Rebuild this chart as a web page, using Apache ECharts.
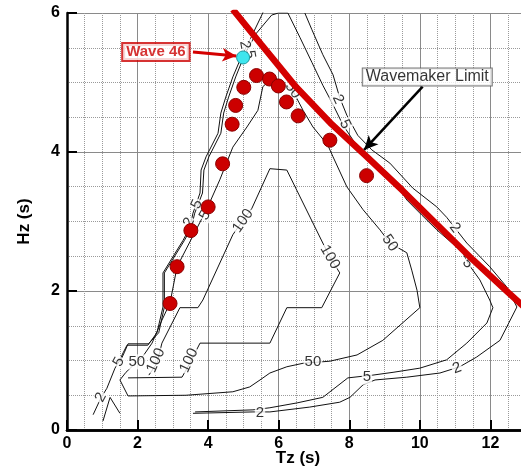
<!DOCTYPE html>
<html>
<head>
<meta charset="utf-8">
<script src="https://cdn.jsdelivr.net/npm/echarts@6/dist/echarts.min.js"></script>
<style>
  html, body { margin: 0; padding: 0; background: #fff; }
  #chart { width: 521px; height: 470px; }
</style>
</head>
<body>
<div id="chart"></div>
<script>
// contour lines, points are [Tz, Hz]
const contour2Left = [[0.74,0.22],[0.96,0.46],[1.13,0.60],[1.36,0.89],[1.47,0.98],[1.59,1.11],[1.70,1.22],[2.29,1.22],[2.55,1.40],[2.72,1.77],[2.72,2.26],[3.29,2.73],[3.48,2.91],[3.57,3.12],[3.77,3.41],[3.80,3.74],[3.94,3.93],[4.28,4.27],[4.36,4.56],[4.50,4.79],[4.70,5.08],[4.90,5.32],[4.99,5.42],[5.18,5.61],[5.52,5.97],[5.58,6.04]]
const contour5Left = [[1.50,0.98],[1.62,1.11],[1.73,1.24],[2.31,1.24],[2.60,1.40],[2.76,1.77],[2.76,2.26],[3.33,2.73],[3.52,2.91],[3.62,3.12],[3.84,3.41],[3.88,3.74],[4.02,3.93],[4.36,4.27],[4.44,4.56],[4.58,4.79],[4.78,5.08],[4.97,5.32],[5.08,5.45],[5.37,5.71],[5.80,5.97],[5.99,6.0],[6.26,6.0]]
const contour5Right = [[6.26,6.0],[6.60,5.65],[6.94,5.29],[7.25,4.96],[7.54,4.68],[7.82,4.39],[8.16,4.13],[8.64,3.88],[9.15,3.67],[9.63,3.31],[10.06,3.09],[10.48,2.88],[10.91,2.69],[11.22,2.55],[11.36,2.40],[11.70,2.16],[11.98,1.87],[12.07,1.76],[11.90,1.54],[11.33,1.25],[10.76,1.01],[10.00,0.89],[9.24,0.83],[8.67,0.79],[7.96,0.75],[7.25,0.47],[6.52,0.39],[5.75,0.32],[5.27,0.29],[3.63,0.26]]
const contour2Right = [[6.74,6.0],[6.94,5.76],[7.25,5.40],[7.54,5.11],[7.73,4.78],[7.93,4.53],[8.24,4.24],[8.64,4.03],[9.15,3.84],[9.80,3.48],[10.48,3.21],[10.76,3.06],[10.99,2.91],[11.33,2.69],[11.98,2.35],[12.46,2.06],[12.75,1.77],[12.27,1.29],[11.61,1.05],[11.13,0.91],[10.57,0.82],[9.63,0.76],[8.73,0.72],[8.39,0.65],[8.02,0.47],[7.73,0.40],[6.88,0.33],[5.75,0.26],[5.27,0.26],[3.57,0.24]]
const contourSmall = [[1.02,0.13],[1.22,0.47],[1.50,0.24]]
const contour50 = [[2.41,1.25],[2.15,1.06],[1.98,0.98],[1.67,0.83],[1.50,0.72],[1.73,0.49],[3.37,0.50],[4.70,0.55],[5.18,0.62],[5.47,0.72],[5.75,0.82],[6.23,0.91],[6.69,0.96],[7.45,0.99],[8.22,1.08],[8.95,1.29],[10.0,1.76],[9.92,2.01],[9.77,2.30],[9.63,2.55],[9.15,2.69],[8.87,2.88],[8.39,3.17],[7.93,3.50],[7.54,3.93],[7.39,4.10],[6.97,4.36],[6.69,4.60],[6.40,4.88],[6.03,5.04],[5.81,5.06],[5.55,4.94],[5.41,4.60],[5.10,4.36],[4.70,4.07],[4.33,3.60],[3.99,3.21],[3.77,2.99],[3.12,2.35],[2.92,1.83],[2.69,1.58],[2.41,1.25]]
const contour100 = [[1.73,0.75],[3.26,0.76],[3.48,0.96],[3.77,1.25],[5.75,1.25],[6.23,1.76],[7.22,1.76],[7.73,2.26],[7.45,2.49],[7.25,2.69],[6.23,3.74],[5.75,3.76],[5.24,3.19],[4.99,3.02],[4.70,2.81],[3.85,1.87],[3.71,1.76],[3.20,1.76],[2.69,1.25],[2.55,0.96],[2.32,0.79]]

// wavemaker limit curve
const wavemakerLimit = [[4.70,6.05],[5.50,5.55],[6.50,4.93],[7.50,4.40],[8.50,3.93],[9.50,3.45],[10.50,2.95],[11.50,2.45],[12.50,1.98],[13.00,1.75]]

// measured sea states
const waveTz = [2.92,3.12,3.51,4.00,4.41,4.68,4.78,5.01,5.37,5.74,5.99,6.22,6.55,7.45,8.49]
const waveHz = [1.82,2.35,2.87,3.21,3.83,4.40,4.67,4.93,5.10,5.05,4.95,4.72,4.52,4.17,3.66]
const wave46 = [4.99, 5.36]

// contour labels
const labelText = ['2','5','50','100','100','2','5','50','100','100','50','50','5','2','2','2','5','2','5','50','2','5']
const labelTz = [0.96,1.47,1.98,2.52,3.46,3.46,3.68,3.97,4.99,7.45,9.15,6.97,8.50,11.05,5.47,7.68,7.88,10.99,11.36,6.40,5.04,5.18]
const labelHz = [0.47,0.98,0.98,1.00,1.00,2.99,3.25,3.14,3.01,2.49,2.69,0.98,0.76,0.89,0.24,4.76,4.40,2.91,2.40,4.89,5.54,5.40]
const labelRot = [62,62,0,66,65,65,65,60,55,-60,-55,0,0,20,0,-65,-65,-52,-55,-55,-80,-80]

const font = "'Liberation Sans', Arial, sans-serif"

const chart = echarts.init(document.getElementById('chart'), null, { renderer: 'canvas' })

function contourSeries(data) {
  return {
    type: 'line',
    data: data,
    showSymbol: false,
    symbol: 'none',
    silent: true,
    animation: false,
    z: 2,
    lineStyle: { color: '#111', width: 1 }
  }
}

const labelData = labelText.map((t, i) => ({
  value: [labelTz[i], labelHz[i]],
  label: { formatter: t, rotate: labelRot[i] }
}))

chart.setOption({
  backgroundColor: '#fff',
  animation: false,
  // plot runs past the right edge of the picture, as in the original
  grid: { left: 67, right: -40, top: 13, bottom: 40, containLabel: false, outerBoundsMode: 'none' },
  xAxis: [{
    type: 'value',
    min: 0,
    max: 14,
    interval: 2,
    name: 'Tz (s)',
    nameLocation: 'middle',
    nameGap: 20,
    nameMoveOverlap: false,
    nameTextStyle: { color: '#000', fontSize: 17, fontWeight: 'bold', fontFamily: font, padding: [0, 32, 0, 0] },
    axisLine: { onZero: false, lineStyle: { color: '#000', width: 2.5 } },
    axisTick: { inside: true, length: 10, lineStyle: { color: '#000', width: 2 } },
    axisLabel: { color: '#000', fontSize: 16, fontWeight: 'bold', fontFamily: font, margin: 6, showMaxLabel: false },
    splitLine: { show: true, lineStyle: { color: '#8a8a8a', width: 1 } },
    minorTick: { show: false, splitNumber: 4 },
    minorSplitLine: { show: true, lineStyle: { color: '#9a9a9a', width: 1, type: 'dotted' } }
  }, {
    type: 'value',
    position: 'top',
    min: 0,
    max: 14,
    axisLine: { show: true, lineStyle: { color: '#000', width: 2.5 } },
    axisTick: { show: false },
    axisLabel: { show: false },
    splitLine: { show: false }
  }],
  yAxis: {
    type: 'value',
    min: 0,
    max: 6,
    interval: 2,
    name: 'Hz (s)',
    nameLocation: 'middle',
    nameRotate: 90,
    nameGap: 34,
    nameMoveOverlap: false,
    nameTextStyle: { color: '#000', fontSize: 17, fontWeight: 'bold', fontFamily: font },
    axisLine: { show: true, onZero: false, lineStyle: { color: '#000', width: 2.5 } },
    axisTick: { show: true, inside: true, length: 10, lineStyle: { color: '#000', width: 2 } },
    axisLabel: { color: '#000', fontSize: 16, fontWeight: 'bold', fontFamily: font, margin: 7 },
    splitLine: { show: true, lineStyle: { color: '#8a8a8a', width: 1 } },
    minorTick: { show: false, splitNumber: 4 },
    minorSplitLine: { show: true, lineStyle: { color: '#9a9a9a', width: 1, type: 'dotted' } }
  },
  series: [
    contourSeries(contour2Left),
    contourSeries(contour5Left),
    contourSeries(contour5Right),
    contourSeries(contour2Right),
    contourSeries(contourSmall),
    contourSeries(contour50),
    contourSeries(contour100),
    {
      type: 'scatter',
      data: labelData,
      symbolSize: 0,
      silent: true,
      z: 3,
      label: {
        show: true,
        position: 'inside',
        color: '#000',
        fontSize: 15,
        fontFamily: font,
        backgroundColor: '#fff',
        padding: [0, 1]
      }
    },
    {
      type: 'line',
      data: wavemakerLimit,
      showSymbol: false,
      symbol: 'none',
      silent: true,
      z: 4,
      lineStyle: { color: '#d40000', width: 6.5 }
    },
    {
      type: 'scatter',
      data: waveTz.map((t, i) => [t, waveHz[i]]),
      symbolSize: 14,
      silent: true,
      z: 5,
      itemStyle: { color: '#cc0000', borderColor: '#8a0000', borderWidth: 1, opacity: 1 }
    },
    {
      type: 'scatter',
      data: [wave46],
      symbolSize: 13,
      silent: true,
      z: 6,
      itemStyle: { color: '#3fe6ee', borderColor: '#1b9aa0', borderWidth: 1, opacity: 1 },
      markLine: {
        silent: true,
        symbol: ['none', 'arrow'],
        symbolSize: [10, 14],
        label: { show: false },
        data: [
          [{ coord: [3.57, 5.44], lineStyle: { color: '#d40000', width: 3, type: 'solid' } }, { coord: [4.80, 5.38] }],
          [{ coord: [10.08, 4.94], lineStyle: { color: '#000', width: 2.5, type: 'solid' } }, { coord: [8.42, 4.03] }]
        ]
      }
    },
    {
      type: 'scatter',
      symbolSize: 0,
      silent: true,
      z: 7,
      data: [
        { value: [2.52, 5.44], label: { formatter: 'Wave 46', color: '#cc0000', fontWeight: 'bold', fontSize: 15, borderColor: '#cc0000', borderWidth: 2, padding: [1, 3, 0, 3] } },
        { value: [10.21, 5.08], label: { formatter: 'Wavemaker Limit', color: '#000', fontSize: 16, borderColor: '#555', borderWidth: 1, padding: [1, 3, 0, 3] } }
      ],
      label: {
        show: true,
        position: 'inside',
        fontFamily: font,
        backgroundColor: '#fff'
      }
    }
  ]
})
</script>
</body>
</html>
